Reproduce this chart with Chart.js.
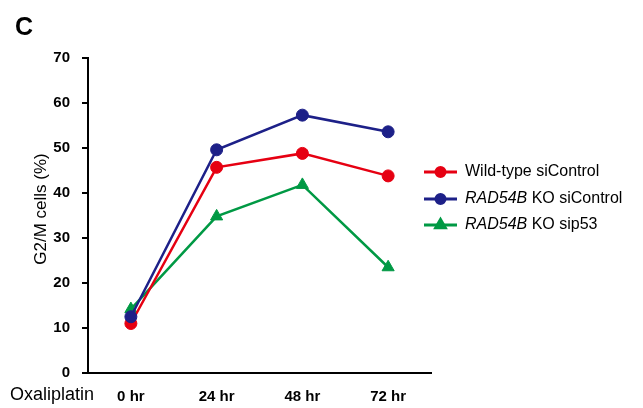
<!DOCTYPE html>
<html>
<head>
<meta charset="utf-8">
<script src="https://cdn.jsdelivr.net/npm/chart.js@4"></script>
<style>
  html, body { margin: 0; padding: 0; background: #fff; }
  #wrap { width: 643px; height: 408px; }
</style>
</head>
<body>
<div id="wrap"><canvas id="g2m" width="643" height="408"></canvas></div>
<script>
/* ---------- data ---------- */
const timePoints = ["0 hr", "24 hr", "48 hr", "72 hr"];
const wildTypeSiControl = [11.0, 45.7, 48.8, 43.8];
const koSiControl = [12.5, 49.6, 57.3, 53.6];
const koSip53 = [14.2, 34.8, 41.8, 23.5];
const seriesNames = ["Wild-type siControl", "RAD54B KO siControl", "RAD54B KO sip53"];
const geneName = "RAD54B"; // shown in italics
const yTicks = [0, 10, 20, 30, 40, 50, 60, 70];
const yTitle = "G2/M cells (%)";
const xTitle = "Oxaliplatin";
const panelLetter = "C";

const FONT = '"Liberation Sans", Arial, Helvetica, sans-serif';
const colors = ["#E60012", "#1D2088", "#009944"];
const pointStyles = ["circle", "circle", "triangle"];
const drawOrder = [1, 0, 2]; // blue on top, green underneath

/* ---------- extra text + legend ---------- */
const figureText = {
  id: "figureText",
  afterDraw(chart) {
    const ctx = chart.ctx;
    ctx.save();
    ctx.fillStyle = "#000";

    // panel letter
    ctx.font = "bold 25px " + FONT;
    ctx.textAlign = "left";
    ctx.textBaseline = "alphabetic";
    ctx.fillText(panelLetter, 15, 35);

    // y title
    ctx.save();
    ctx.translate(41, 209);
    ctx.rotate(-Math.PI / 2);
    ctx.font = "17px " + FONT;
    ctx.textAlign = "center";
    ctx.textBaseline = "middle";
    ctx.fillText(yTitle, 0, 0);
    ctx.restore();

    // treatment label, on the tick label row
    ctx.font = "18px " + FONT;
    ctx.textAlign = "left";
    ctx.textBaseline = "middle";
    ctx.fillText(xTitle, 10, 395);

    // legend (in series order, not draw order)
    const rows = [172, 199, 225];
    seriesNames.forEach((name, i) => {
      const y = rows[i];
      ctx.strokeStyle = colors[i];
      ctx.fillStyle = colors[i];
      ctx.lineWidth = 3;
      ctx.beginPath();
      ctx.moveTo(424, y);
      ctx.lineTo(457, y);
      ctx.stroke();
      Chart.helpers.drawPoint(ctx, {
        pointStyle: pointStyles[i],
        radius: pointStyles[i] === "triangle" ? 5.5 : 4.5,
        borderWidth: 1
      }, 440.5, y);

      ctx.fillStyle = "#000";
      ctx.textBaseline = "middle";
      let x = 465;
      let label = name;
      if (label.startsWith(geneName)) {
        ctx.font = "italic 16px " + FONT;
        ctx.fillText(geneName, x, y);
        x += ctx.measureText(geneName).width;
        label = label.slice(geneName.length);
      }
      ctx.font = "16px " + FONT;
      ctx.fillText(label, x, y);
    });
    ctx.restore();
  }
};

const seriesValues = [wildTypeSiControl, koSiControl, koSip53];

new Chart(document.getElementById("g2m"), {
  type: "line",
  plugins: [figureText],
  data: {
    labels: timePoints,
    datasets: seriesValues.map((vals, i) => ({
      label: seriesNames[i],
      data: vals,
      order: drawOrder[i],
      borderColor: colors[i],
      backgroundColor: colors[i],
      borderWidth: 2.5,
      pointStyle: pointStyles[i],
      pointRadius: pointStyles[i] === "triangle" ? 7 : 6,
      pointBorderWidth: 1,
      tension: 0
    }))
  },
  options: {
    responsive: false,
    animation: false,
    layout: { padding: { top: 58, right: 212, left: 0, bottom: 0 } },
    plugins: { legend: { display: false }, tooltip: { enabled: false } },
    scales: {
      x: {
        offset: true,
        grid: { display: false, drawTicks: false },
        border: { display: true, color: "#000", width: 2 },
        ticks: { color: "#000", padding: 15, font: { family: FONT, size: 15, weight: "bold" } },
        afterFit(scale) { scale.height = 35; }
      },
      y: {
        min: 0,
        max: 70,
        afterBuildTicks(scale) { scale.ticks = yTicks.map(v => ({ value: v })); },
        grid: { drawOnChartArea: false, drawTicks: true, tickLength: 6, color: "#000", lineWidth: 2 },
        border: { display: true, color: "#000", width: 2 },
        ticks: { color: "#000", padding: 12, font: { family: FONT, size: 15, weight: "bold" } },
        afterFit(scale) { scale.width = 88; }
      }
    }
  }
});
</script>
</body>
</html>
